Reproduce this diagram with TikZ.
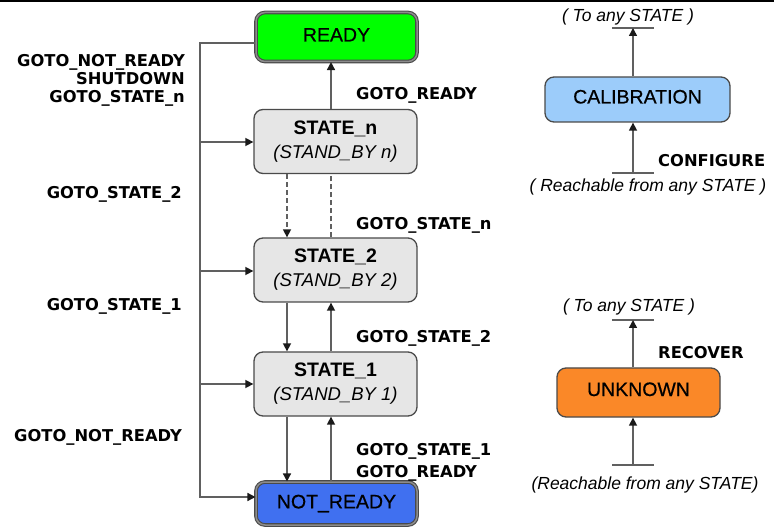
\documentclass[tikz,border=0pt]{standalone}
\usepackage{fontspec}
\setmainfont{Liberation Sans}
\newfontfamily\lblfont{DejaVu Sans}
\newfontfamily\boxfont{Liberation Sans}[FakeBold=0.6]
\usetikzlibrary{arrows.meta}

\definecolor{linegray}{HTML}{606060}
\definecolor{tipgray}{HTML}{1A1A1A}
\definecolor{boxline}{HTML}{4A4A4A}
\definecolor{stategray}{HTML}{E6E6E6}
\definecolor{readygreen}{HTML}{00FF00}
\definecolor{notreadyblue}{RGB}{64,112,240}
\definecolor{calblue}{RGB}{156,204,250}
\definecolor{unkorange}{RGB}{250,136,40}

\begin{document}
\begin{tikzpicture}[x=1pt,y=-1pt,
  conn/.style={draw=linegray, line width=1.5pt},
  arr/.style={conn, -{Triangle[length=8pt,width=8pt,color=tipgray]}},
  lbl/.style={font=\lblfont\bfseries\fontsize{16.3}{18}\selectfont, inner sep=0pt},
  note/.style={font=\itshape\fontsize{17.5}{20}\selectfont, inner sep=0pt},
  box/.style={draw=boxline, line width=1.3pt, rounded corners=9pt, inner sep=0pt,
    align=center, font=\fontsize{19.5}{24}\selectfont},
  plainbox/.style={box, font=\boxfont\fontsize{19.5}{24}\selectfont},
  statebox/.style={box, fill=stategray, minimum width=163pt, minimum height=64pt},
  endbox/.style={plainbox, double=black!45, double distance=1.5pt, line width=1.1pt,
    minimum width=161pt},
  tbar/.style={draw=linegray, line width=1.5pt}
]
\useasboundingbox (0,0) rectangle (774,529);

% frame line along the top edge
\draw[line width=2pt, black] (0,1) -- (774,1);

% main chain of states
\node[endbox, fill=readygreen, minimum height=49pt, text height=14pt, text depth=5pt]
  (ready) at (336.5,37) {READY};
\node[statebox] (staten) at (335.5,141.5)
  {{\bfseries STATE\_n}\\{\itshape\fontsize{18.5}{24}\selectfont (STAND\_BY n)}};
\node[statebox] (state2) at (335.5,270)
  {{\bfseries STATE\_2}\\{\itshape\fontsize{18.5}{24}\selectfont (STAND\_BY 2)}};
\node[statebox] (state1) at (335.5,384)
  {{\bfseries STATE\_1}\\{\itshape\fontsize{18.5}{24}\selectfont (STAND\_BY 1)}};
\node[endbox, fill=notreadyblue, minimum height=43pt] (notready) at (336.5,503.5) {NOT\_READY};

% columns of the vertical transitions
\coordinate (dn) at (287,0);
\coordinate (up) at (331,0);

\draw[arr] (staten.north -| up) -- (ready.south -| up);
\draw[arr, dash pattern=on 5pt off 3pt] (staten.south -| dn) -- (state2.north -| dn);
\draw[conn, dash pattern=on 5pt off 3pt] (state2.north -| up) -- (staten.south -| up);
\draw[arr] (state2.south -| dn) -- (state1.north -| dn);
\draw[arr] (state1.north -| up) -- (state2.south -| up);
\draw[arr] (state1.south -| dn) -- (notready.north -| dn);
\draw[arr] (notready.north -| up) -- (state1.south -| up);

% bus on the left, fed from READY
\coordinate (bustop) at (200,43);
\coordinate (busn) at (200,142);
\coordinate (bus2) at (200,271);
\coordinate (bus1) at (200,384);
\coordinate (busbot) at (200,497);
\draw[arr] (ready.west |- bustop) -- (bustop) -- (busbot) -- (notready.west |- busbot);
\draw[arr] (busn) -- (staten.west |- busn);
\draw[arr] (bus2) -- (state2.west |- bus2);
\draw[arr] (bus1) -- (state1.west |- bus1);

% left labels
\node[lbl, anchor=base east] (ll1) at (185,67) {GOTO\_NOT\_READY};
\node[lbl, anchor=base east] (ll2) at (185,85) {SHUTDOWN};
\node[lbl, anchor=base east] (ll3) at (185,103) {GOTO\_STATE\_n};
\node[lbl, anchor=base east] (ll4) at (182,199) {GOTO\_STATE\_2};
\node[lbl, anchor=base east] (ll5) at (182,311) {GOTO\_STATE\_1};
\node[lbl, anchor=base east] (ll6) at (182,441) {GOTO\_NOT\_READY};

% right labels of the chain
\node[lbl, anchor=base west] (rl1) at (356,100) {GOTO\_READY};
\node[lbl, anchor=base west] (rl2) at (356,230) {GOTO\_STATE\_n};
\node[lbl, anchor=base west] (rl3) at (356,343) {GOTO\_STATE\_2};
\node[lbl, anchor=base west] (rl4) at (356,455) {GOTO\_STATE\_1};
\node[lbl, anchor=base west] (rl5) at (356,477) {GOTO\_READY};

% CALIBRATION
\node[plainbox, fill=calblue, minimum width=185pt, minimum height=45pt, text height=14pt, text depth=6pt]
  (cal) at (637.5,99.5) {CALIBRATION};
\coordinate (calx) at (633,0);
\coordinate (caltop) at (633,28);
\coordinate (calbot) at (633,173);
\draw[tbar] (612,28) -- (654,28);
\draw[tbar] (612,173) -- (654,173);
\draw[arr] (cal.north -| calx) -- (caltop);
\draw[arr] (calbot) -- (cal.south -| calx);
\node[note, anchor=base] (caln1) at (628,22) {( To any STATE )};
\node[lbl, anchor=base west] (calcfg) at (658,167) {CONFIGURE};
\node[note, anchor=base] (caln2) at (648,192) {( Reachable from any STATE )};

% UNKNOWN
\node[plainbox, fill=unkorange, minimum width=163pt, minimum height=49pt, text height=14pt, text depth=7pt]
  (unk) at (638.5,392.5) {UNKNOWN};
\coordinate (unktop) at (633,320);
\coordinate (unkbot) at (633,465);
\draw[tbar] (612,320) -- (654,320);
\draw[tbar] (612,465) -- (654,465);
\draw[arr] (unk.north -| calx) -- (unktop);
\draw[arr] (unkbot) -- (unk.south -| calx);
\node[note, anchor=base] (unkn1) at (629,312) {( To any STATE )};
\node[lbl, anchor=base west] (unkrec) at (658,359) {RECOVER};
\node[note, anchor=base] (unkn2) at (645,489) {(Reachable from any STATE)};
\end{tikzpicture}
\end{document}
